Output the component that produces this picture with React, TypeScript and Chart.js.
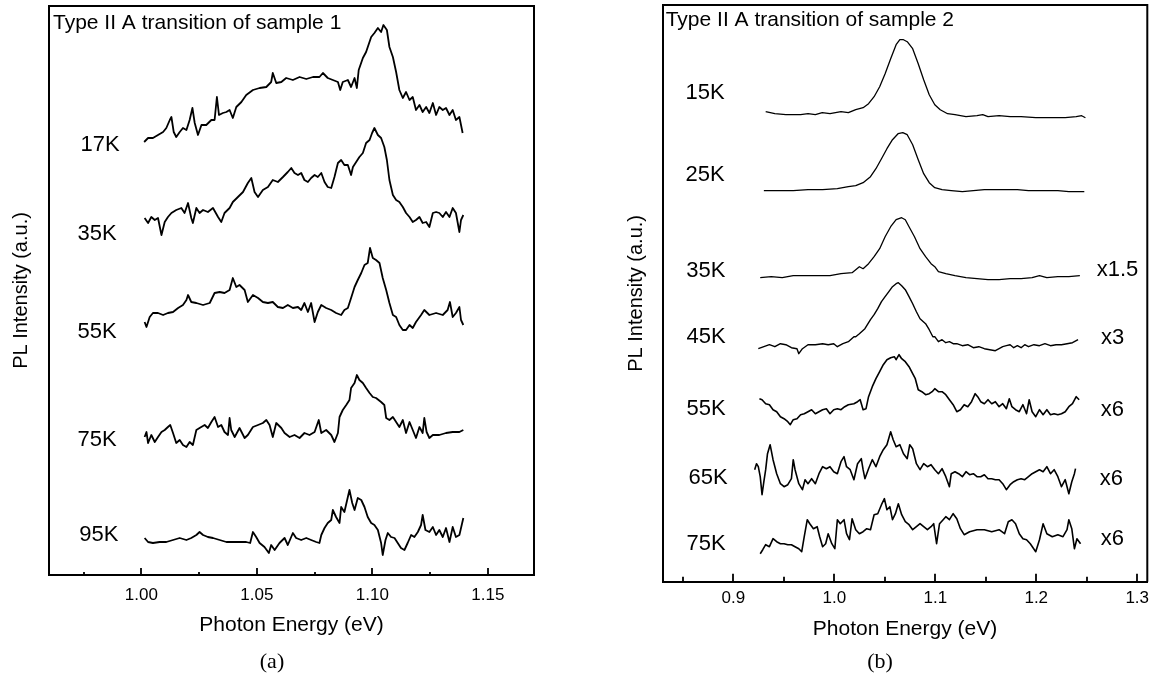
import React, { useEffect, useRef } from "react";
import { Chart, registerables } from "chart.js";

Chart.register(...registerables);

type Pt = [number, number];

// ---------------- Panel (a): sample 1 ----------------
const A_X_RANGE: [number, number] = [0.96, 1.17];
const A_MAJOR_TICKS = [1.0, 1.05, 1.1, 1.15];
const A_MINOR_TICKS = [0.975, 1.025, 1.075, 1.125];
const A_TITLE = "Type II A transition of sample 1";
const A_TEMPS = ["17K", "35K", "55K", "75K", "95K"];
const A_TEMP_ANCHORS: Pt[] = [[0.9821, 43.0], [0.9808, 34.1], [0.9808, 24.3], [0.9808, 13.55], [0.9816, 4.05]];

const A_17K: Pt[] = [[1.0012,43.3],[1.0029,43.7],[1.0050,43.7],[1.0072,44.0],[1.0094,44.3],[1.0108,44.7],[1.0123,45.5],[1.0130,45.8],[1.0140,44.3],[1.0151,43.8],[1.0166,44.3],[1.0180,44.7],[1.0195,44.5],[1.0209,45.5],[1.0221,46.7],[1.0231,45.2],[1.0245,44.0],[1.0260,45.0],[1.0281,45.0],[1.0303,45.5],[1.0317,45.5],[1.0327,47.8],[1.0336,46.0],[1.0353,46.2],[1.0368,46.3],[1.0382,46.5],[1.0396,45.7],[1.0411,46.8],[1.0433,47.3],[1.0454,48.0],[1.0483,48.5],[1.0512,48.7],[1.0541,48.8],[1.0562,49.3],[1.0569,50.2],[1.0584,49.2],[1.0606,49.3],[1.0627,49.7],[1.0656,49.5],[1.0685,49.8],[1.0714,49.6],[1.0743,49.8],[1.0771,49.8],[1.0786,50.2],[1.0807,49.7],[1.0829,49.5],[1.0851,49.3],[1.0861,48.5],[1.0872,49.3],[1.0894,49.5],[1.0908,48.8],[1.0923,49.7],[1.0933,48.7],[1.0941,50.5],[1.0959,51.7],[1.0973,52.3],[1.0995,53.8],[1.1009,54.2],[1.1024,54.7],[1.1038,54.3],[1.1048,55.0],[1.1063,54.5],[1.1074,52.8],[1.1089,51.8],[1.1103,50.3],[1.1117,48.5],[1.1132,47.7],[1.1146,48.3],[1.1161,47.5],[1.1175,47.8],[1.1189,46.5],[1.1204,47.0],[1.1218,46.3],[1.1233,46.8],[1.1247,46.2],[1.1262,47.2],[1.1276,46.0],[1.1290,46.8],[1.1305,46.5],[1.1319,46.7],[1.1334,46.0],[1.1348,46.5],[1.1362,45.5],[1.1377,45.8],[1.1391,44.2]];

const A_35K: Pt[] = [[1.0014,35.7],[1.0029,35.2],[1.0043,35.8],[1.0058,35.5],[1.0072,35.7],[1.0087,34.0],[1.0101,35.3],[1.0115,35.8],[1.0130,36.2],[1.0151,36.5],[1.0173,36.7],[1.0187,36.2],[1.0202,37.2],[1.0216,35.7],[1.0223,35.2],[1.0238,36.7],[1.0252,36.2],[1.0267,36.5],[1.0288,36.3],[1.0310,36.7],[1.0332,35.8],[1.0346,35.3],[1.0360,36.2],[1.0382,36.7],[1.0396,37.3],[1.0418,37.8],[1.0440,38.3],[1.0461,39.2],[1.0476,39.7],[1.0490,38.3],[1.0505,37.8],[1.0526,38.5],[1.0548,38.8],[1.0569,39.5],[1.0591,39.3],[1.0613,39.8],[1.0634,40.3],[1.0649,40.7],[1.0663,40.2],[1.0678,40.0],[1.0692,40.2],[1.0706,39.5],[1.0721,39.3],[1.0735,39.7],[1.0750,40.0],[1.0764,39.8],[1.0779,40.2],[1.0793,39.3],[1.0807,38.8],[1.0822,38.7],[1.0836,39.8],[1.0851,41.2],[1.0865,41.5],[1.0879,41.0],[1.0894,41.0],[1.0908,40.0],[1.0916,40.8],[1.0930,41.3],[1.0944,41.8],[1.0959,42.2],[1.0973,43.2],[1.0988,43.5],[1.0999,44.2],[1.1009,44.7],[1.1024,44.0],[1.1038,43.7],[1.1052,42.8],[1.1063,41.5],[1.1074,39.5],[1.1089,38.0],[1.1103,37.5],[1.1117,37.3],[1.1132,36.8],[1.1146,36.2],[1.1161,35.8],[1.1175,35.3],[1.1189,35.5],[1.1204,35.8],[1.1218,35.2],[1.1233,35.3],[1.1247,34.8],[1.1262,36.2],[1.1276,36.3],[1.1290,36.2],[1.1305,35.8],[1.1319,36.3],[1.1334,35.8],[1.1348,36.7],[1.1362,36.2],[1.1377,34.3],[1.1384,35.5],[1.1394,36.0]];

const A_55K: Pt[] = [[1.0014,25.3],[1.0022,24.8],[1.0036,25.8],[1.0050,26.2],[1.0072,26.2],[1.0094,26.0],[1.0115,26.2],[1.0137,26.3],[1.0159,26.7],[1.0180,27.0],[1.0195,27.5],[1.0202,28.0],[1.0216,27.3],[1.0238,27.2],[1.0267,27.0],[1.0296,27.2],[1.0317,28.2],[1.0339,28.3],[1.0360,28.2],[1.0382,28.5],[1.0396,29.7],[1.0411,28.8],[1.0425,29.0],[1.0447,28.5],[1.0461,27.3],[1.0483,28.0],[1.0505,27.7],[1.0526,27.3],[1.0548,27.2],[1.0569,27.3],[1.0591,26.8],[1.0613,26.7],[1.0634,27.0],[1.0656,26.7],[1.0678,26.8],[1.0692,26.5],[1.0706,27.2],[1.0721,26.3],[1.0735,27.2],[1.0750,25.3],[1.0764,26.3],[1.0779,27.0],[1.0800,26.7],[1.0822,26.5],[1.0843,26.2],[1.0865,26.0],[1.0879,26.5],[1.0894,26.7],[1.0908,27.7],[1.0923,28.8],[1.0937,29.5],[1.0952,30.2],[1.0966,31.0],[1.0980,31.2],[1.0990,32.7],[1.1002,31.7],[1.1016,31.5],[1.1031,31.2],[1.1045,29.7],[1.1060,28.5],[1.1074,27.2],[1.1089,26.0],[1.1103,25.8],[1.1117,25.0],[1.1132,24.5],[1.1146,24.5],[1.1161,25.0],[1.1175,24.7],[1.1189,25.3],[1.1211,26.0],[1.1225,26.5],[1.1247,26.0],[1.1276,26.2],[1.1305,26.0],[1.1326,26.5],[1.1336,27.3],[1.1348,25.8],[1.1362,26.2],[1.1377,26.8],[1.1384,25.5],[1.1394,25.0]];

const A_75K: Pt[] = [[1.0014,13.8],[1.0022,14.3],[1.0029,13.2],[1.0043,14.0],[1.0058,13.3],[1.0072,13.8],[1.0087,14.3],[1.0101,14.5],[1.0115,14.8],[1.0125,15.0],[1.0137,14.2],[1.0151,13.2],[1.0166,13.5],[1.0180,13.0],[1.0195,12.8],[1.0209,13.3],[1.0223,13.0],[1.0238,14.5],[1.0252,14.7],[1.0274,15.0],[1.0288,14.7],[1.0303,15.3],[1.0317,15.8],[1.0332,14.8],[1.0346,15.0],[1.0360,14.3],[1.0375,14.0],[1.0382,15.7],[1.0389,14.5],[1.0404,13.8],[1.0425,14.7],[1.0447,13.7],[1.0461,14.0],[1.0483,14.8],[1.0505,15.0],[1.0526,15.2],[1.0541,15.5],[1.0555,15.0],[1.0569,13.8],[1.0584,15.2],[1.0606,14.7],[1.0620,14.2],[1.0642,13.8],[1.0663,14.0],[1.0685,13.7],[1.0706,14.2],[1.0728,14.0],[1.0750,14.3],[1.0768,15.5],[1.0779,14.2],[1.0800,14.5],[1.0822,14.0],[1.0836,13.3],[1.0851,14.2],[1.0858,15.8],[1.0872,16.5],[1.0887,17.0],[1.0901,17.5],[1.0908,18.7],[1.0923,19.2],[1.0933,20.0],[1.0944,19.5],[1.0959,19.2],[1.0973,18.7],[1.0988,18.2],[1.1002,17.8],[1.1016,17.7],[1.1038,17.3],[1.1052,17.0],[1.1060,15.7],[1.1074,15.5],[1.1089,15.8],[1.1103,15.3],[1.1117,14.8],[1.1132,15.5],[1.1146,14.2],[1.1161,15.3],[1.1175,14.5],[1.1189,13.7],[1.1204,14.8],[1.1218,14.2],[1.1225,15.7],[1.1235,14.3],[1.1247,13.7],[1.1262,14.0],[1.1290,14.0],[1.1319,14.2],[1.1348,14.3],[1.1377,14.3],[1.1394,14.5]];

const A_95K: Pt[] = [[1.0014,3.7],[1.0029,3.3],[1.0050,3.2],[1.0079,3.3],[1.0108,3.3],[1.0137,3.5],[1.0166,3.7],[1.0195,3.5],[1.0216,3.7],[1.0238,4.0],[1.0252,4.3],[1.0267,4.0],[1.0288,3.8],[1.0310,3.7],[1.0339,3.5],[1.0368,3.3],[1.0396,3.3],[1.0425,3.3],[1.0454,3.3],[1.0471,3.2],[1.0483,4.3],[1.0497,3.8],[1.0512,3.2],[1.0533,2.8],[1.0552,2.2],[1.0562,3.0],[1.0577,2.5],[1.0598,3.2],[1.0620,3.7],[1.0634,3.0],[1.0656,4.2],[1.0670,3.7],[1.0692,3.5],[1.0714,3.7],[1.0735,3.5],[1.0757,3.3],[1.0771,3.2],[1.0779,4.0],[1.0793,4.7],[1.0807,5.2],[1.0822,5.5],[1.0829,6.5],[1.0843,5.8],[1.0858,5.2],[1.0865,6.8],[1.0879,6.3],[1.0894,7.8],[1.0901,8.5],[1.0913,7.2],[1.0923,6.5],[1.0937,7.7],[1.0952,7.5],[1.0966,6.8],[1.0980,5.8],[1.0995,5.2],[1.1009,5.0],[1.1024,4.5],[1.1038,3.2],[1.1045,2.0],[1.1057,3.5],[1.1067,4.2],[1.1081,3.8],[1.1096,3.7],[1.1110,3.2],[1.1124,2.7],[1.1139,2.5],[1.1153,3.2],[1.1168,4.0],[1.1182,3.8],[1.1197,4.3],[1.1211,5.0],[1.1218,6.0],[1.1230,4.5],[1.1247,4.3],[1.1262,4.8],[1.1276,4.0],[1.1290,4.5],[1.1305,3.8],[1.1319,4.7],[1.1334,3.3],[1.1348,4.8],[1.1362,3.8],[1.1377,4.0],[1.1384,4.7],[1.1394,5.7]];

// ---------------- Panel (b): sample 2 ----------------
const B_X_RANGE: [number, number] = [0.83, 1.31];
const B_MAJOR_TICKS = [0.9, 1.0, 1.1, 1.2, 1.3];
const B_MINOR_TICKS = [0.85, 0.95, 1.05, 1.15, 1.25];
const B_TITLE = "Type II A transition of sample 2";
const B_TEMPS = ["15K", "25K", "35K", "45K", "55K", "65K", "75K"];
const B_TEMP_ANCHORS: Pt[] = [[0.872, 48.9], [0.872, 40.7], [0.8727, 31.1], [0.873, 24.5], [0.873, 17.3], [0.875, 10.4], [0.873, 3.8]];
const B_FACTORS = ["x1.5", "x3", "x6", "x6", "x6"];
const B_FACTOR_ANCHORS: Pt[] = [[1.2805, 31.2], [1.2756, 24.4], [1.2753, 17.2], [1.2743, 10.3], [1.2753, 4.3]];

const B_15K: Pt[] = [[0.9320,47.0],[0.9411,46.8],[0.9520,46.7],[0.9666,46.7],[0.9740,46.8],[0.9812,46.7],[0.9880,46.9],[0.9957,46.8],[1.0066,47.0],[1.0139,46.9],[1.0212,47.2],[1.0285,47.4],[1.0339,47.8],[1.0394,48.5],[1.0449,49.5],[1.0503,50.8],[1.0558,52.3],[1.0612,53.7],[1.0649,54.2],[1.0685,54.2],[1.0722,54.0],[1.0776,53.3],[1.0831,51.8],[1.0885,50.2],[1.0940,48.7],[1.0995,47.7],[1.1049,47.2],[1.1122,46.8],[1.1195,46.7],[1.1304,46.5],[1.1413,46.6],[1.1470,46.7],[1.1522,46.5],[1.1632,46.6],[1.1741,46.5],[1.1850,46.5],[1.1995,46.4],[1.2141,46.4],[1.2287,46.4],[1.2396,46.5],[1.2450,46.6],[1.2487,46.4]];

const B_25K: Pt[] = [[0.9302,39.1],[0.9448,39.1],[0.9593,39.1],[0.9739,39.2],[0.9884,39.2],[1.0030,39.3],[1.0139,39.5],[1.0212,39.6],[1.0285,39.9],[1.0358,40.5],[1.0412,41.3],[1.0467,42.3],[1.0521,43.3],[1.0576,44.2],[1.0631,44.8],[1.0678,44.9],[1.0722,44.7],[1.0776,43.7],[1.0831,42.2],[1.0885,40.8],[1.0940,39.9],[1.0995,39.4],[1.1067,39.2],[1.1158,39.1],[1.1268,39.0],[1.1377,39.1],[1.1486,39.2],[1.1595,39.2],[1.1704,39.2],[1.1813,39.2],[1.1923,39.1],[1.2032,39.1],[1.2141,39.1],[1.2214,39.1],[1.2323,39.0],[1.2396,39.0],[1.2476,39.0]];

const B_35K: Pt[] = [[0.9266,30.4],[0.9375,30.5],[0.9484,30.4],[0.9593,30.6],[0.9739,30.6],[0.9848,30.6],[0.9957,30.6],[1.0066,30.8],[1.0176,30.9],[1.0248,31.5],[1.0285,31.3],[1.0339,31.8],[1.0394,32.5],[1.0449,33.3],[1.0503,34.5],[1.0558,35.5],[1.0612,36.2],[1.0667,36.4],[1.0703,36.2],[1.0740,35.5],[1.0794,34.5],[1.0849,33.3],[1.0904,32.5],[1.0958,31.8],[1.0995,31.5],[1.1031,31.0],[1.1104,30.8],[1.1195,30.6],[1.1304,30.4],[1.1413,30.3],[1.1522,30.2],[1.1632,30.2],[1.1741,30.3],[1.1850,30.3],[1.1959,30.4],[1.2032,30.6],[1.2105,30.4],[1.2214,30.5],[1.2323,30.5],[1.2432,30.6]];

const B_45K: Pt[] = [[0.9247,23.3],[0.9302,23.5],[0.9357,23.7],[0.9411,23.5],[0.9466,23.8],[0.9520,23.7],[0.9575,23.4],[0.9630,23.3],[0.9648,22.8],[0.9684,23.3],[0.9739,23.7],[0.9812,23.7],[0.9884,23.8],[0.9939,23.7],[0.9994,23.8],[1.0030,23.5],[1.0085,23.8],[1.0139,24.0],[1.0194,24.5],[1.0212,24.5],[1.0248,24.8],[1.0303,25.3],[1.0358,26.2],[1.0394,26.7],[1.0430,27.3],[1.0467,28.0],[1.0503,28.5],[1.0540,29.0],[1.0576,29.5],[1.0612,29.8],[1.0634,29.9],[1.0667,29.6],[1.0703,29.2],[1.0740,28.5],[1.0776,27.8],[1.0813,27.0],[1.0849,26.3],[1.0904,25.8],[1.0940,25.2],[1.0976,24.5],[1.0995,24.5],[1.1031,24.0],[1.1067,24.2],[1.1104,23.9],[1.1140,24.0],[1.1177,23.8],[1.1213,23.8],[1.1268,23.6],[1.1322,23.7],[1.1377,23.4],[1.1431,23.5],[1.1486,23.3],[1.1540,23.2],[1.1595,23.1],[1.1632,23.3],[1.1668,23.5],[1.1704,23.6],[1.1741,23.7],[1.1777,23.4],[1.1813,23.6],[1.1850,23.4],[1.1886,23.7],[1.1923,23.5],[1.1977,23.7],[1.2032,23.6],[1.2086,23.8],[1.2141,23.6],[1.2196,23.7],[1.2250,23.7],[1.2305,23.8],[1.2359,23.9],[1.2396,24.1],[1.2414,24.2]];

const B_55K: Pt[] = [[0.9258,18.3],[0.9284,18.2],[0.9320,17.8],[0.9357,17.7],[0.9393,17.2],[0.9429,17.0],[0.9466,16.5],[0.9502,16.3],[0.9539,16.0],[0.9564,15.7],[0.9593,16.2],[0.9630,16.3],[0.9666,16.7],[0.9702,16.8],[0.9739,17.0],[0.9775,17.2],[0.9812,16.8],[0.9848,17.0],[0.9884,17.2],[0.9921,17.3],[0.9957,16.8],[0.9994,17.2],[1.0030,17.3],[1.0066,17.2],[1.0103,17.5],[1.0139,17.7],[1.0194,17.8],[1.0230,18.0],[1.0256,18.2],[1.0285,17.2],[1.0314,17.3],[1.0339,18.5],[1.0376,19.5],[1.0412,20.3],[1.0449,21.0],[1.0485,21.7],[1.0521,22.2],[1.0558,22.4],[1.0594,22.5],[1.0612,22.2],[1.0641,22.7],[1.0667,22.3],[1.0703,22.0],[1.0740,21.5],[1.0776,20.8],[1.0802,20.3],[1.0831,19.2],[1.0867,19.0],[1.0904,18.7],[1.0940,18.8],[1.0969,19.0],[1.0995,19.3],[1.1031,19.0],[1.1067,19.0],[1.1104,18.7],[1.1140,18.2],[1.1177,17.7],[1.1213,17.0],[1.1249,17.2],[1.1286,17.7],[1.1322,17.5],[1.1359,18.0],[1.1395,18.8],[1.1420,18.5],[1.1450,18.0],[1.1486,17.8],[1.1522,18.2],[1.1559,17.8],[1.1595,18.0],[1.1632,17.5],[1.1668,17.8],[1.1704,17.3],[1.1733,18.3],[1.1759,17.5],[1.1795,17.2],[1.1832,17.0],[1.1868,17.7],[1.1904,16.8],[1.1930,18.2],[1.1959,17.0],[1.1995,16.5],[1.2032,17.2],[1.2068,16.7],[1.2105,17.2],[1.2141,16.7],[1.2177,16.8],[1.2214,16.7],[1.2250,16.8],[1.2287,17.0],[1.2323,17.5],[1.2359,17.8],[1.2396,18.5],[1.2425,18.2]];

const B_65K: Pt[] = [[0.9211,11.2],[0.9229,11.8],[0.9247,11.5],[0.9266,10.5],[0.9284,8.7],[0.9302,10.0],[0.9320,11.2],[0.9338,12.8],[0.9364,13.7],[0.9393,12.2],[0.9429,10.8],[0.9466,9.8],[0.9502,9.5],[0.9539,9.7],[0.9575,10.3],[0.9593,12.2],[0.9611,11.2],[0.9648,9.8],[0.9684,9.2],[0.9710,10.2],[0.9739,9.8],[0.9775,10.3],[0.9812,9.8],[0.9848,10.8],[0.9884,11.5],[0.9921,11.3],[0.9957,11.5],[0.9994,11.0],[1.0030,10.8],[1.0066,12.0],[1.0096,12.5],[1.0121,11.5],[1.0157,11.2],[1.0194,10.2],[1.0230,11.8],[1.0267,12.3],[1.0285,11.2],[1.0303,10.3],[1.0339,11.3],[1.0376,12.2],[1.0412,11.5],[1.0449,12.5],[1.0485,13.2],[1.0521,13.7],[1.0558,15.0],[1.0583,14.2],[1.0612,13.5],[1.0649,13.7],[1.0685,12.8],[1.0722,12.3],[1.0747,13.7],[1.0776,13.3],[1.0813,11.8],[1.0849,11.2],[1.0885,11.8],[1.0922,11.5],[1.0958,11.7],[1.0995,11.2],[1.1031,10.8],[1.1067,11.3],[1.1104,10.5],[1.1140,9.5],[1.1158,10.8],[1.1195,11.0],[1.1231,10.8],[1.1268,10.5],[1.1304,11.0],[1.1340,10.7],[1.1377,10.8],[1.1413,10.5],[1.1450,10.5],[1.1486,10.7],[1.1522,10.3],[1.1559,10.3],[1.1595,10.2],[1.1632,10.2],[1.1668,9.8],[1.1704,9.2],[1.1741,9.7],[1.1777,10.0],[1.1813,10.2],[1.1850,10.3],[1.1886,10.2],[1.1923,10.5],[1.1959,10.8],[1.1995,11.0],[1.2032,11.2],[1.2068,11.0],[1.2105,11.5],[1.2141,10.8],[1.2177,11.2],[1.2214,10.5],[1.2250,9.5],[1.2287,10.2],[1.2323,8.8],[1.2352,10.0],[1.2378,10.8],[1.2389,11.3]];

const B_75K: Pt[] = [[0.9266,2.8],[0.9291,3.2],[0.9320,3.7],[0.9357,3.5],[0.9393,4.3],[0.9429,4.0],[0.9466,3.8],[0.9502,3.8],[0.9539,3.7],[0.9575,3.7],[0.9611,3.5],[0.9648,3.3],[0.9677,3.0],[0.9702,4.5],[0.9732,6.2],[0.9757,5.8],[0.9793,5.3],[0.9830,5.5],[0.9855,4.5],[0.9884,3.5],[0.9914,3.8],[0.9939,4.8],[0.9975,3.8],[1.0005,3.3],[1.0030,6.2],[1.0059,5.8],[1.0096,6.2],[1.0121,4.8],[1.0150,4.2],[1.0176,6.3],[1.0212,5.2],[1.0248,4.8],[1.0285,5.0],[1.0321,5.3],[1.0358,5.2],[1.0394,6.7],[1.0430,6.8],[1.0467,7.7],[1.0496,8.3],[1.0521,7.2],[1.0550,7.5],[1.0576,6.2],[1.0605,6.8],[1.0634,7.8],[1.0667,6.7],[1.0703,6.0],[1.0740,5.7],[1.0776,5.2],[1.0813,5.5],[1.0849,5.8],[1.0885,5.5],[1.0922,5.2],[1.0958,5.5],[1.0984,5.8],[1.1013,3.8],[1.1042,5.8],[1.1078,6.2],[1.1104,6.5],[1.1140,6.2],[1.1177,6.8],[1.1213,6.3],[1.1249,5.3],[1.1286,4.7],[1.1340,5.0],[1.1413,5.2],[1.1486,5.2],[1.1559,5.0],[1.1632,5.2],[1.1686,4.8],[1.1723,6.0],[1.1759,6.2],[1.1795,5.8],[1.1832,4.8],[1.1868,4.3],[1.1904,4.2],[1.1941,3.8],[1.1995,3.0],[1.2032,4.2],[1.2068,5.8],[1.2105,4.8],[1.2159,4.5],[1.2214,4.7],[1.2265,4.5],[1.2305,5.2],[1.2323,6.2],[1.2352,5.3],[1.2378,3.3],[1.2403,4.3],[1.2439,3.8]];

const X_TITLE = "Photon Energy (eV)";
const Y_TITLE = "PL Intensity (a.u.)";

const SANS = '"Liberation Sans", Arial, Helvetica, sans-serif';
const SERIF = '"Liberation Serif", "Times New Roman", Times, serif';

type Label = { text: string; at: Pt; align: CanvasTextAlign };

type Panel = {
  left: number;
  width: number;
  height: number;
  xRange: [number, number];
  yMax: number;
  major: number[];
  minor: number[];
  decimals: number;
  series: Pt[][];
  lineWidths: number[];
  labels: Label[];
  title: string;
  padTop: number;
  padRight: number;
  yAxisW: number;
  xAxisH: number;
  tickPad: number;
  xTitlePad: number;
  yTitlePad: number;
  titleBaseline: number;
  titleInset: number;
  majorLen: number;
  minorLen: number;
};

function decorPlugin(p: Panel) {
  return {
    id: "decor",
    afterDraw(chart: any) {
      const { ctx, chartArea: ca, scales } = chart;
      const xs = scales.x;
      const ys = scales.y;
      ctx.save();
      ctx.strokeStyle = "#000";
      ctx.lineWidth = 2;
      ctx.beginPath();
      ctx.moveTo(ca.left, ca.top);
      ctx.lineTo(ca.right, ca.top);
      ctx.lineTo(ca.right, ca.bottom);
      ctx.stroke();
      ctx.lineWidth = 1.8;
      ctx.beginPath();
      for (const v of p.major) {
        const px = Math.round(xs.getPixelForValue(v));
        ctx.moveTo(px, ca.bottom);
        ctx.lineTo(px, ca.bottom - p.majorLen);
      }
      for (const v of p.minor) {
        const px = Math.round(xs.getPixelForValue(v));
        ctx.moveTo(px, ca.bottom);
        ctx.lineTo(px, ca.bottom - p.minorLen);
      }
      ctx.stroke();
      ctx.fillStyle = "#000";
      ctx.font = `22px ${SANS}`;
      ctx.textBaseline = "middle";
      for (const l of p.labels) {
        ctx.textAlign = l.align;
        ctx.fillText(l.text, xs.getPixelForValue(l.at[0]), ys.getPixelForValue(l.at[1]));
      }
      ctx.font = `21px ${SANS}`;
      ctx.textAlign = "left";
      ctx.textBaseline = "alphabetic";
      ctx.fillText(p.title, ca.left + p.titleInset, ca.top + p.titleBaseline);
      ctx.restore();
    },
  };
}

function PanelChart({ p }: { p: Panel }) {
  const ref = useRef<HTMLCanvasElement | null>(null);
  useEffect(() => {
    if (!ref.current) return;
    const chart = new Chart(ref.current, {
      type: "line",
      data: {
        datasets: p.series.map((s, i) => ({
          data: s.map(([x, y]) => ({ x, y })),
          borderColor: "#000",
          borderWidth: p.lineWidths[i],
          borderJoinStyle: "round",
          pointRadius: 0,
          tension: 0,
          fill: false,
        })),
      },
      options: {
        responsive: false,
        animation: false,
        events: [],
        layout: { padding: { top: p.padTop, right: p.padRight, left: 0, bottom: 0 } },
        plugins: {
          legend: { display: false },
          tooltip: { enabled: false },
        },
        scales: {
          x: {
            type: "linear",
            position: "bottom",
            min: p.xRange[0],
            max: p.xRange[1],
            afterFit: (s: any) => {
              s.height = p.xAxisH;
            },
            afterBuildTicks: (s: any) => {
              s.ticks = p.major.map((v) => ({ value: v }));
            },
            ticks: {
              autoSkip: false,
              maxRotation: 0,
              padding: p.tickPad,
              color: "#000",
              font: { family: SANS, size: 17 },
              callback: (v: any) => Number(v).toFixed(p.decimals),
            },
            grid: { display: true, drawOnChartArea: false, drawTicks: false },
            border: { display: true, color: "#000", width: 2 },
            title: {
              display: true,
              text: X_TITLE,
              color: "#000",
              font: { family: SANS, size: 21 },
              padding: { top: 0, bottom: p.xTitlePad },
            },
          },
          y: {
            type: "linear",
            min: 0,
            max: p.yMax,
            afterFit: (s: any) => {
              s.width = p.yAxisW;
            },
            ticks: { display: false },
            grid: { display: true, drawOnChartArea: false, drawTicks: false },
            border: { display: true, color: "#000", width: 2 },
            title: {
              display: true,
              text: Y_TITLE,
              color: "#000",
              font: { family: SANS, size: 20 },
              padding: { top: p.yTitlePad, bottom: 0 },
            },
          },
        },
      },
      plugins: [decorPlugin(p)],
    } as any);
    return () => chart.destroy();
  }, [p]);
  return (
    <canvas
      ref={ref}
      width={p.width}
      height={p.height}
      style={{ position: "absolute", left: p.left, top: 0, width: p.width, height: p.height }}
    />
  );
}

const toLabels = (texts: string[], anchors: Pt[], align: CanvasTextAlign): Label[] =>
  texts.map((t, i) => ({ text: t, at: anchors[i], align }));

const PANEL_A: Panel = {
  left: 0,
  width: 580,
  height: 676,
  xRange: A_X_RANGE,
  yMax: 56.9,
  major: A_MAJOR_TICKS,
  minor: A_MINOR_TICKS,
  decimals: 2,
  series: [A_17K, A_35K, A_55K, A_75K, A_95K],
  lineWidths: [1.8, 1.8, 1.8, 1.8, 1.8],
  labels: toLabels(A_TEMPS, A_TEMP_ANCHORS, "center"),
  title: A_TITLE,
  padTop: 6,
  padRight: 46,
  yAxisW: 49,
  xAxisH: 101,
  tickPad: 10,
  xTitlePad: 38,
  yTitlePad: 9,
  titleBaseline: 23,
  titleInset: 4,
  majorLen: 7,
  minorLen: 3,
};

const PANEL_B: Panel = {
  left: 580,
  width: 576,
  height: 676,
  xRange: B_X_RANGE,
  yMax: 57.67,
  major: B_MAJOR_TICKS,
  minor: B_MINOR_TICKS,
  decimals: 1,
  series: [B_15K, B_25K, B_35K, B_45K, B_55K, B_65K, B_75K],
  lineWidths: [1.3, 1.3, 1.3, 1.4, 1.6, 1.6, 1.6],
  labels: [
    ...toLabels(B_TEMPS, B_TEMP_ANCHORS, "center"),
    ...toLabels(B_FACTORS, B_FACTOR_ANCHORS, "center"),
  ],
  title: B_TITLE,
  padTop: 5,
  padRight: 8.7,
  yAxisW: 82.7,
  xAxisH: 94.3,
  tickPad: 6,
  xTitlePad: 34,
  yTitlePad: 44,
  titleBaseline: 21,
  titleInset: 3,
  majorLen: 8,
  minorLen: 5,
};

const captionStyle: React.CSSProperties = {
  position: "absolute",
  top: 661,
  transform: "translate(-50%, -50%)",
  fontFamily: SERIF,
  fontSize: 22,
  color: "#000",
  lineHeight: 1,
};

export default function App() {
  return (
    <div
      style={{
        position: "absolute",
        left: 0,
        top: 0,
        width: 1156,
        height: 676,
        background: "#fff",
        overflow: "hidden",
      }}
    >
      <PanelChart p={PANEL_A} />
      <PanelChart p={PANEL_B} />
      <div style={{ ...captionStyle, left: 272 }}>(a)</div>
      <div style={{ ...captionStyle, left: 880 }}>(b)</div>
    </div>
  );
}
